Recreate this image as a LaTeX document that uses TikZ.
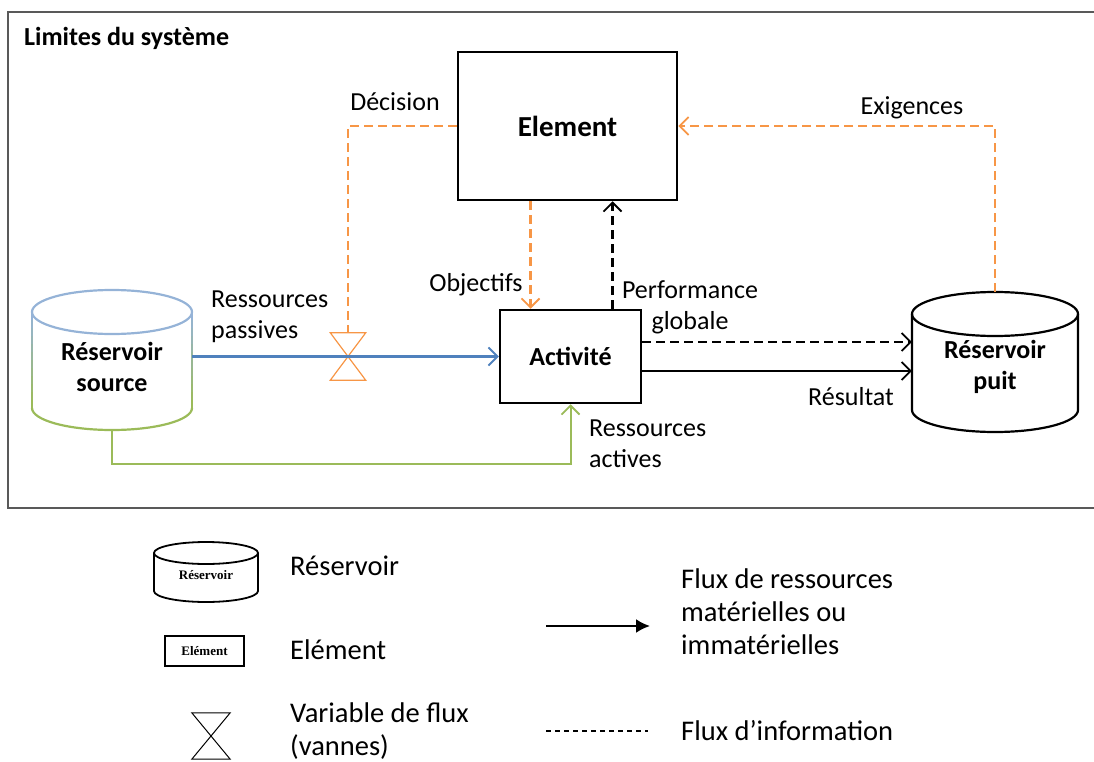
\documentclass[tikz,border=0pt]{standalone}
\usepackage{fontspec}
\setmainfont{Carlito}
\newfontfamily\legfont{Liberation Serif}
\usetikzlibrary{arrows.meta,positioning}
\definecolor{bleu}{HTML}{4F81BD}
\definecolor{bleuclair}{HTML}{95B3D7}
\definecolor{vert}{HTML}{9BBB59}
\definecolor{orange}{HTML}{F79646}
\tikzset{
  txt/.style={font=\fontsize{26}{31}\selectfont,inner sep=0pt},
  gras/.style={font=\fontsize{26}{31}\selectfont\bfseries,inner sep=0pt},
  legende/.style={font=\fontsize{28.5}{33}\selectfont,inner sep=0pt},
  bloc/.style={draw,line width=2.5pt,font=\fontsize{26}{31}\selectfont\bfseries},
  info/.style={dash pattern=on 9pt off 5pt,line width=2.2pt},
  fleche/.style={-{Straight Barb[length=9pt,width=18pt,line width=1.8pt]}},
  cuve/.style={line width=2.2pt},
  legtxt/.style={font=\legfont\fontsize{13}{15}\selectfont\bfseries}
}

\begin{document}
\begin{tikzpicture}[x=1pt,y=-1pt]
\useasboundingbox (0,0) rectangle (1094,762);
% limites du systeme
\draw[black!65,line width=1.5pt] (8,12) rectangle (1110,508);
\node[gras,anchor=west] (lim) at (24,38) {Limites du système};

% blocs
\node[bloc,minimum width=219pt,minimum height=148pt,font=\fontsize{29}{34}\selectfont\bfseries] (elem) at (567.5,126) {Element};
\node[bloc,minimum width=141pt,minimum height=93pt] (act) at (570.5,356.5) {Activité};

% reservoir source (contour en degrade)
\draw[cuve,bleuclair] (112,312) ellipse[x radius=80,y radius=22];
\foreach \i in {0,...,11} {
  \pgfmathsetmacro\p{100-\i*100/11}
  \draw[cuve,bleuclair!\p!vert] (32,{312+\i*8}) -- (32,{320+\i*8});
  \draw[cuve,bleuclair!\p!vert] (192,{312+\i*8}) -- (192,{320+\i*8});
}
\draw[cuve,vert] (32,408) arc[start angle=180,end angle=0,x radius=80,y radius=22];
\node[gras,align=center,minimum width=160pt,minimum height=126pt] (src) at (112,367) {Réservoir\\source};

% reservoir puit
\draw[cuve] (995,314) ellipse[x radius=83,y radius=22];
\draw[cuve] (912,314) -- (912,410) arc[start angle=180,end angle=0,x radius=83,y radius=22] -- (1078,314);
\node[gras,align=center,minimum width=166pt,minimum height=130pt] (pui) at (995,367) {Réservoir\\puit};
\coordinate (puitop) at (995,292);

% vanne
\node[minimum width=35pt,minimum height=47pt,inner sep=0pt] (vanne) at (348,356.5) {};
\draw[orange,line width=1.2pt] (vanne.north west) -- (vanne.north east) -- (vanne.south west) -- (vanne.south east) -- cycle;

% flux
\draw[bleu,line width=2.5pt,fleche] (src.east |- act.west) -- (act.west);
\draw[vert,line width=2pt,fleche] (src.south) -- (src.south |- 0,464) -| (act.south);
\draw[orange,info] (elem.west) -| (vanne.north);
\draw[orange,info,fleche] ([xshift=-37pt]elem.south) -- ([xshift=-37pt]elem.south |- act.north);
\draw[info,fleche] ([xshift=42pt]act.north) -- ([xshift=42pt]act.north |- elem.south);
\draw[orange,info,fleche] (puitop) |- (elem.east);
\draw[info,fleche] ([yshift=14.5pt]act.east) -- ([yshift=14.5pt]act.east -| pui.west);
\draw[line width=2.2pt,fleche] ([yshift=-14.5pt]act.east) -- ([yshift=-14.5pt]act.east -| pui.west);

% etiquettes
\node[txt] (dec) at (395,102) {Décision};
\node[txt] (exi) at (912,108) {Exigences};
\node[txt] (obj) at (476,285) {Objectifs};
\node[txt,align=left,anchor=west] (rpas) at (211,317) {Ressources\\passives};
\node[txt,align=center] (perf) at (690,307) {Performance\\globale};
\node[txt] (res) at (851,397) {Résultat};
\node[txt,align=left,anchor=west] (ract) at (589,444) {Ressources\\actives};

% legende
\draw[line width=1.8pt] (206,553) ellipse[x radius=52,y radius=11];
\draw[line width=1.8pt] (154,553) -- (154,591) arc[start angle=180,end angle=0,x radius=52,y radius=11] -- (258,553);
\node[legtxt] (legcuve) at (206,575) {Réservoir};
\node[draw,line width=2pt,legtxt,minimum width=79pt,minimum height=30pt] (legelem) at (204.5,651) {Elément};
\node[minimum width=38pt,minimum height=46pt,inner sep=0pt] (legvanne) at (211,736) {};
\draw[line width=1pt] (legvanne.north west) -- (legvanne.north east) -- (legvanne.south west) -- (legvanne.south east) -- cycle;
\coordinate (fa) at (546,626);
\coordinate (fb) at (650,626);
\draw[line width=2.2pt,-{Latex[length=14pt,width=14pt]}] (fa) -- (fb);
\coordinate (da) at (546,731);
\coordinate (db) at (648,731);
\draw[line width=1.2pt,dash pattern=on 5pt off 4pt] (da) -- (db);
\node[legende,anchor=west] (lcuve) at (290,566) {Réservoir};
\node[legende,anchor=west] (lelem) at (290,650) {Elément};
\node[legende,anchor=west,align=left] (lvanne) at (290,731) {Variable de flux\\(vannes)};
\node[legende,anchor=west,align=left] (lflux) at (681,612) {Flux de ressources\\matérielles ou\\immatérielles};
\node[legende,anchor=west] (linfo) at (681,731) {Flux d’information};
\end{tikzpicture}
\end{document}
